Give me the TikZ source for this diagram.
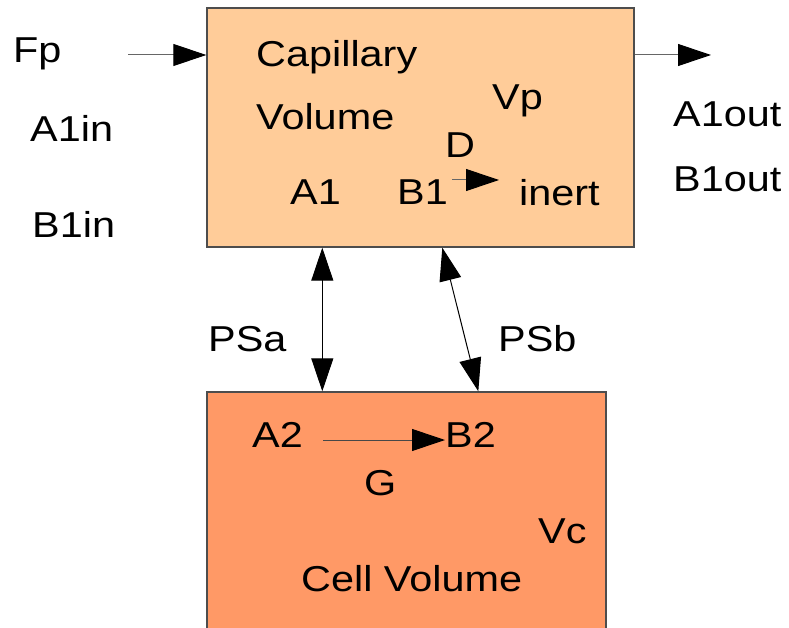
\documentclass[tikz,border=0pt]{standalone}
\usepackage{fontspec}
\setmainfont{Liberation Sans}[FakeStretch=1.15]
\usepackage{tikz}
\usetikzlibrary{arrows.meta,positioning,calc}
\definecolor{cPlasma}{HTML}{FFCC99}
\definecolor{cCell}{HTML}{FF9966}
\definecolor{cEdge}{HTML}{4D4D4D}
\definecolor{cShaft}{HTML}{666666}

\begin{document}
\begin{tikzpicture}[x=1pt,y=-1pt,font=\fontsize{36}{43}\selectfont,
    compartment/.style={draw=cEdge,line width=1.4pt,inner sep=0pt},
    lbl/.style={anchor=base west,inner sep=0pt},
    flux/.style={line width=1pt,-{Triangle[length=33pt,width=22pt,color=black]}},
    exch/.style={line width=1pt,{Triangle[length=33pt,width=22pt]}-{Triangle[length=33pt,width=22pt]}}]
  \useasboundingbox (0,0) rectangle (789,628);
  \clip (0,0) rectangle (789,628);
  % the two compartments
  \node[compartment,fill=cPlasma,minimum width=427pt,minimum height=239pt] (cap) at (420.5,127.5) {};
  \node[compartment,fill=cCell,minimum width=399pt,minimum height=260pt] (cell) at (406.5,522) {};
  % labels: name/left/baseline/text
  \foreach \n/\x/\y/\t in {%
      fp/13/63/Fp, a1in/30/142/A1in, b1in/32/237/B1in,
      capA/256/67/Capillary, capB/256/130/Volume, vp/492/110/Vp,
      d/445/158/D, a1/290/205/A1, b1/397/205/B1, inert/519/206/inert,
      a1out/673/127/A1out, b1out/673/192/B1out,
      psa/208/351/PSa, psb/498/351/PSb,
      a2/252/447/A2, b2/445/447/B2, g/364/495/G, vc/538/543/Vc,
      cellvol/301/591/{Cell Volume}}{%
    \node[lbl] (\n) at (\x,\y) {\t};
  }
  % flow in and out
  \coordinate (fpstart) at (128,55);
  \coordinate (outend) at (711,55);
  \draw[flux,cShaft] (fpstart) -- (fpstart -| cap.west);
  \draw[flux,cShaft] (cap.east |- outend) -- (outend);
  % decay of B1
  \coordinate (dstart) at (452,180);
  \coordinate (dend) at (499,180);
  \draw[flux,cShaft] (dstart) -- (dend);
  % conversion A2 -> B2
  \coordinate (gstart) at (323,440);
  \draw[flux,cShaft!70!black] (gstart) -- (gstart -| b2.west);
  % exchange across the membrane
  \coordinate (psaTop) at ($(cap.south west)+(116,0)$);
  \coordinate (psaBot) at ($(cell.north west)+(116,0)$);
  \coordinate (psbTop) at ($(cap.south west)+(236,0)$);
  \coordinate (psbBot) at ($(cell.north west)+(272,0)$);
  \draw[exch] (psaTop) -- (psaBot);
  \draw[exch] (psbTop) -- (psbBot);
\end{tikzpicture}
\end{document}
